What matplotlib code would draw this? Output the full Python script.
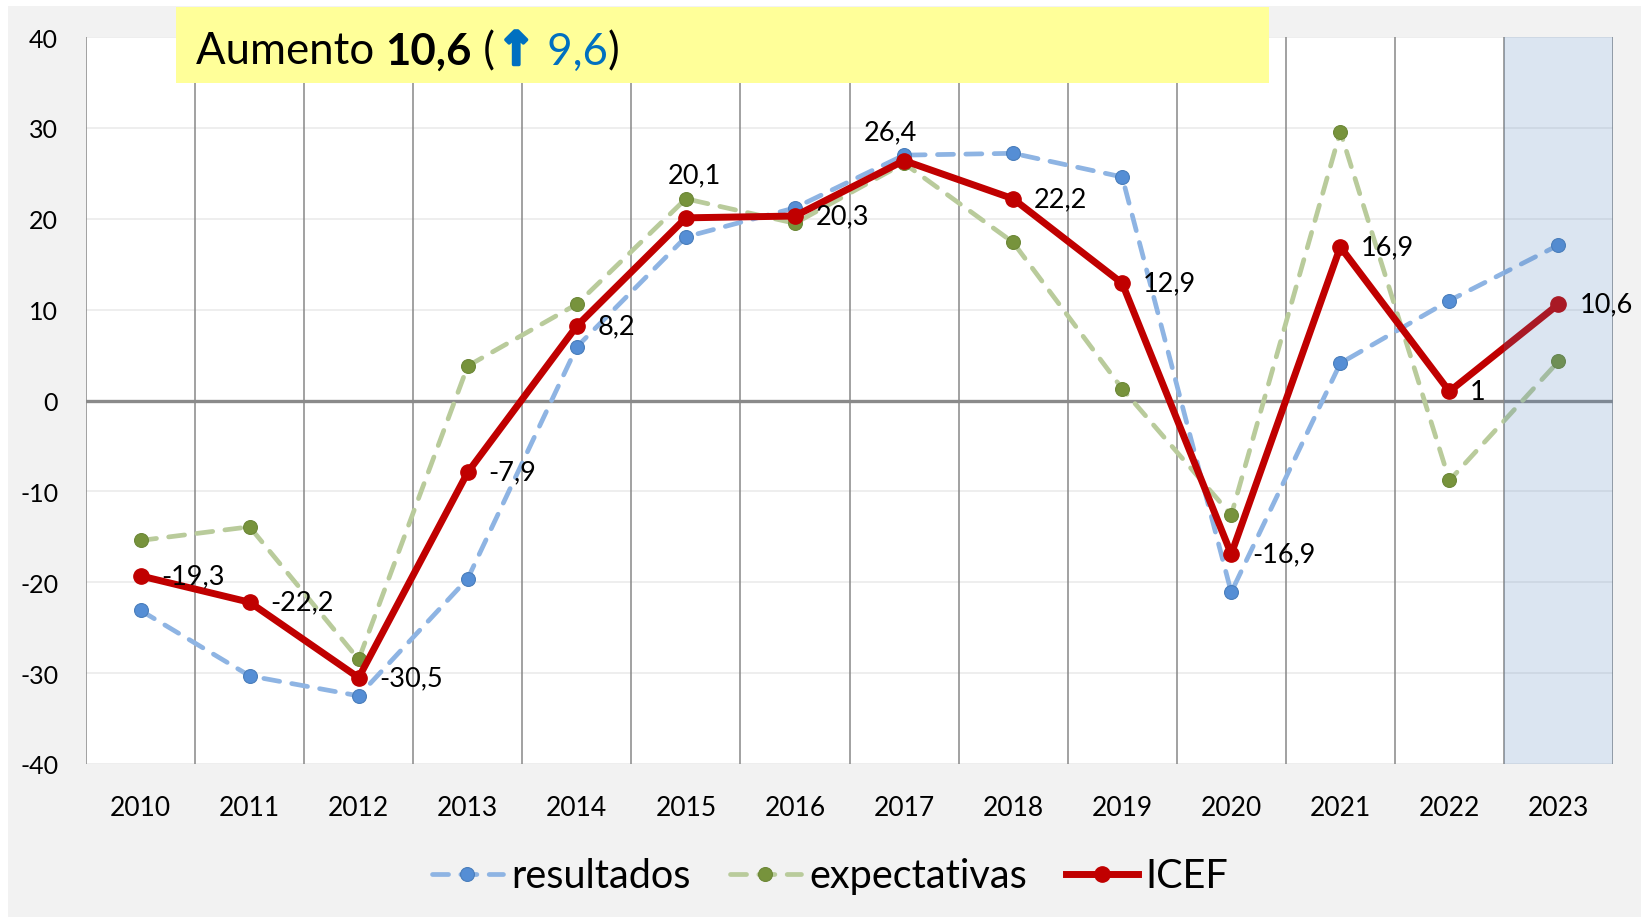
import matplotlib.pyplot as plt
import matplotlib.patheffects as pe
from matplotlib.patches import Rectangle

# Datos
years = ["2010", "2011", "2012", "2013", "2014", "2015", "2016",
         "2017", "2018", "2019", "2020", "2021", "2022", "2023"]
resultados = [-23.1, -30.3, -32.5, -19.6, 5.9, 18.0, 21.2,
              27.0, 27.2, 24.6, -21.1, 4.1, 11.0, 17.1]
expectativas = [-15.4, -13.9, -28.5, 3.8, 10.6, 22.2, 19.5,
                26.1, 17.4, 1.3, -12.6, 29.6, -8.8, 4.3]
icef = [-19.3, -22.2, -30.5, -7.9, 8.2, 20.1, 20.3,
        26.4, 22.2, 12.9, -16.9, 16.9, 1.0, 10.6]
y_ticks = [-40, -30, -20, -10, 0, 10, 20, 30, 40]
title_parts = [("Aumento ", "normal", "black"), ("10,6", "bold", "black"),
               (" (", "normal", "black"), ("\u2191", "bold", "#0070c0"),
               (" 9,6", "normal", "#0070c0"), (")", "normal", "black")]

# etiquetas que van encima del punto (desplazamiento en puntos)
above_offsets = {"2015": (6, 22), "2017": (-10, 12)}

FONT = ["Lato", "DejaVu Sans"]
plt.rcParams["font.family"] = FONT

fig = plt.figure(figsize=(16.43, 9.20), dpi=100)
fig.patch.set_facecolor("white")
# fondo gris del gráfico
fig.patches.append(Rectangle((8 / 1643, 2 / 920), 1633 / 1643, 911 / 920,
                             transform=fig.transFigure, facecolor="#f2f2f2",
                             edgecolor="none", zorder=-5))

ax = fig.add_axes([86 / 1643, 155 / 920, 1527 / 1643, 727 / 920])
ax.set_facecolor("white")

x = list(range(len(years)))

# Rejilla
for yv in y_ticks:
    if yv != 0:
        ax.axhline(yv, color="#ebebeb", lw=1.2, zorder=1)
for k in range(len(years) + 1):
    ax.axvline(k - 0.5, color="#878787", lw=1.1, zorder=1.5)
ax.axhline(0, color="#8a8a8a", lw=2.4, zorder=1.6)

# Series
ax.plot(x, resultados, color="#8eb4e3", lw=3.4, ls=(0, (3.4, 2.6)),
        dash_capstyle="round", marker="o", ms=10, mfc="#558ed5",
        mec="#4a7ebb", mew=0.8, label="resultados", zorder=3)
ax.plot(x, expectativas, color="#b9cb9b", lw=3.4, ls=(0, (3.4, 2.6)),
        dash_capstyle="round", marker="o", ms=10, mfc="#77933c",
        mec="#6d8838", mew=0.8, label="expectativas", zorder=3.2)
ax.plot(x, icef, color="#c00000", lw=5, marker="o", ms=11,
        mfc="#c00000", mec="#c00000", label="ICEF", zorder=4)

# Zona 2023 sombreada
ax.axvspan(len(years) - 1.5, len(years) - 0.5, color="#4f81bd", alpha=0.2,
           lw=0, zorder=5)

# Etiquetas de datos
for xi, yr, v in zip(x, years, icef):
    txt = ("%g" % v).replace(".", ",")
    if yr in above_offsets:
        ax.annotate(txt, (xi, v), xytext=above_offsets[yr],
                    textcoords="offset points", ha="center", va="bottom",
                    fontsize=19.5, zorder=6)
    else:
        ax.annotate(txt, (xi, v), xytext=(15, 0), textcoords="offset points",
                    ha="left", va="center", fontsize=19.5, zorder=6,
                    annotation_clip=False)

ax.set_xlim(-0.5, len(years) - 0.5)
ax.set_ylim(-40, 40)
ax.set_xticks(x)
ax.set_xticklabels(years, fontsize=19)
ax.set_yticks(y_ticks)
ax.set_yticklabels([str(t) for t in y_ticks], fontsize=18)
ax.tick_params(axis="x", length=0, pad=22)
ax.tick_params(axis="y", length=0, pad=20)
for s in ax.spines.values():
    s.set_visible(False)

# Leyenda
ax.legend(loc="center", bbox_to_anchor=(830 / 1643, 43 / 920),
          bbox_transform=fig.transFigure, ncol=3, frameon=False,
          fontsize=28.5, handlelength=1.8, columnspacing=1.0,
          handletextpad=0.2)

# Cuadro del título
fig.patches.append(Rectangle((176 / 1643, 1 - 84 / 920), 1093 / 1643, 76 / 920,
                             transform=fig.transFigure, facecolor="#ffff99",
                             edgecolor="none", zorder=10))
renderer = fig.canvas.get_renderer()
xpos = 196 / 1643
for part, weight, col in title_parts:
    if part == "\u2191":
        t = fig.text(xpos + 2 / 1643, 1 - 48 / 920, part, fontsize=33,
                     fontweight=weight, color=col, family=["DejaVu Sans"],
                     va="center_baseline", ha="left", zorder=11,
                     path_effects=[pe.withStroke(linewidth=2.5,
                                                 foreground=col)])
    else:
        t = fig.text(xpos, 1 - 48 / 920, part, fontsize=31.5,
                     fontweight=weight, color=col, family=FONT,
                     va="center_baseline", ha="left", zorder=11)
    xpos = t.get_window_extent(renderer).x1 / fig.bbox.width

plt.savefig("out.png", dpi=100)
